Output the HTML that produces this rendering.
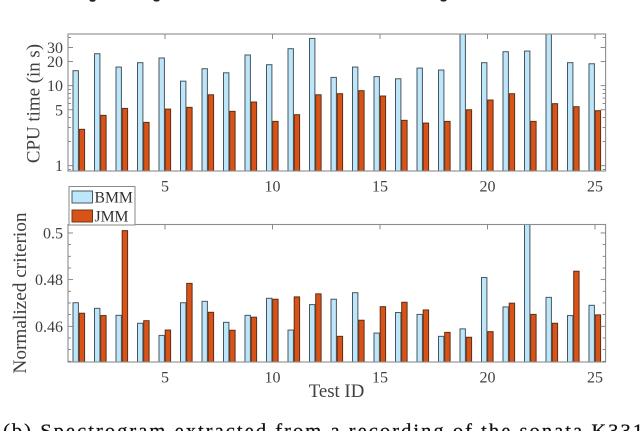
<!DOCTYPE html>
<html lang="en">
<head>
<meta charset="utf-8">
<title>CPU time and normalized criterion per test</title>
<style>
html,body{margin:0;padding:0;background:#fff;}
svg{display:block;font-family:"Liberation Serif",serif;filter:blur(0.35px);}
text{fill:#404040;}
</style>
</head>
<body>
<svg id="chart" xmlns="http://www.w3.org/2000/svg" width="640" height="431" viewBox="0 0 640 431">
  <defs>
    <clipPath id="clip-top"><rect x="68" y="34" width="537.6" height="137"/></clipPath>
    <clipPath id="clip-bottom"><rect x="68" y="224.5" width="537.6" height="137.5"/></clipPath>
  </defs>
  <rect x="0" y="0" width="640" height="431" fill="#fff"/>
  <g fill="#222">
    <ellipse cx="92.5" cy="0.5" rx="3" ry="1.2"/>
    <ellipse cx="156.5" cy="0.5" rx="3" ry="1"/>
    <ellipse cx="443.5" cy="0.5" rx="3" ry="1"/>
  </g>
  <g id="top-plot"></g>
  <g id="bottom-plot"></g>
  <text transform="translate(39.5,103.5) rotate(-90)" text-anchor="middle" font-size="18.9">CPU time (in s)</text>
  <text transform="translate(26,293) rotate(-90)" text-anchor="middle" font-size="19.3">Normalized criterion</text>
  <text x="336.5" y="397" text-anchor="middle" font-size="18.8">Test ID</text>
  <g>
    <rect x="69" y="186.5" width="66" height="38.5" fill="#fff" stroke="#8a8a8a" stroke-width="1"/>
    <rect x="72" y="191" width="20.5" height="12" fill="#bde6fa" stroke="#4a5a62" stroke-width="1"/>
    <text x="94.5" y="202.5" font-size="15.7" style="fill:#303030">BMM</text>
    <rect x="72" y="210" width="20.5" height="12" fill="#d95319" stroke="#6a3a20" stroke-width="1"/>
    <text x="94.5" y="221.5" font-size="15.7" style="fill:#303030">JMM</text>
  </g>
  <text x="3" y="437.5" font-size="20.5" textLength="640" lengthAdjust="spacing" stroke="#111" stroke-width="0.25" style="fill:#111">(b) Spectrogram extracted from a recording of the sonata K331</text>
</svg>
<script>
const testIds = [1,2,3,4,5,6,7,8,9,10,11,12,13,14,15,16,17,18,19,20,21,22,23,24,25];
const xTickValues = [5,10,15,20,25];

const cpuBmm = [15.4,25.1,17.1,19.4,22.2,11.4,16.3,14.5,24.2,18.3,29.0,39.0,12.7,17.1,13.0,12.2,16.6,15.7,50,19.4,26.6,27.1,50,19.4,18.8];
const cpuJmm = [2.85,4.26,5.2,3.48,5.1,5.36,7.7,4.78,6.25,3.58,4.34,7.7,7.94,8.66,7.43,3.69,3.41,3.58,5.0,6.62,7.94,3.58,5.96,5.46,4.87];
const cpuMajorTicks = [1,5,10,20,30];
const cpuMinorTicks = [0.9,2,3,4,6,7,8,9,40];

const critBmm = [0.4701,0.4677,0.4647,0.4613,0.4561,0.4701,0.4707,0.4617,0.4647,0.4720,0.4584,0.4693,0.4716,0.4744,0.4571,0.4659,0.4651,0.4557,0.4589,0.4809,0.4683,0.51,0.4724,0.4646,0.4690];
const critJmm = [0.4656,0.4646,0.5010,0.4624,0.4584,0.4784,0.4660,0.4583,0.4639,0.4716,0.4726,0.4739,0.4557,0.4626,0.4684,0.4703,0.4670,0.4574,0.4553,0.4577,0.4699,0.4651,0.4613,0.4836,0.4649];
const critMajorTicks = [0.46,0.48,0.5];
const critMinorTicks = [0.445,0.45,0.455,0.465,0.47,0.475,0.485,0.49,0.495];
const critTickLabels = ['0.46','0.48','0.5'];

const NS = 'http://www.w3.org/2000/svg';
const LEFT = 68, RIGHT = 605.6;
const xScale = v => 165 + (v - 5) * 21.5;
const yCpu = v => 165.7 - 80 * Math.log10(v);
const yCrit = v => 326.3 - (v - 0.46) * 2333.3;

function make(tag, attrs, parent) {
  const el = document.createElementNS(NS, tag);
  for (const k in attrs) el.setAttribute(k, attrs[k]);
  parent.appendChild(el);
  return el;
}

function drawPlot(group, top, bottom, clipId, yFn, bmm, jmm, majors, minors, labels, prefix) {
  const bars = make('g', {'clip-path': 'url(#' + clipId + ')'}, group);
  
  
  testIds.forEach((id, i) => {
    const c = xScale(id);
    const b = make('rect', {x: c - 6, y: yFn(bmm[i]), width: 5.4, height: Math.max(0, bottom - yFn(bmm[i])), fill: '#bde6fa', stroke: '#47565e', 'stroke-width': 1}, bars);
    
    
    const j = make('rect', {x: c + 0.2, y: yFn(jmm[i]), width: 5.4, height: Math.max(0, bottom - yFn(jmm[i])), fill: '#d95319', stroke: '#5a3018', 'stroke-width': 1}, bars);
    
    
  });

  const ticks = make('g', {stroke: '#6e6e6e', 'stroke-width': 0.8, fill: 'none'}, group);
  
  
  xTickValues.forEach(v => {
    const x = xScale(v);
    const t = make('line', {x1: x, x2: x, y1: top, y2: top + 5}, ticks);
    
    
    const label = make('text', {x: x, y: bottom + 20.7, 'text-anchor': 'middle', 'font-size': 16, stroke: 'none'}, group);
    label.textContent = String(v);
    
    
  });
  majors.forEach((v, i) => {
    const y = yFn(v);
    const a = make('line', {x1: LEFT, x2: LEFT + 5, y1: y, y2: y}, ticks);
    
    
    const b = make('line', {x1: RIGHT - 5, x2: RIGHT, y1: y, y2: y}, ticks);
    
    
    const label = make('text', {x: 63, y: y + 5.5, 'text-anchor': 'end', 'font-size': 16, stroke: 'none'}, group);
    label.textContent = labels[i];
    
    
  });
  minors.forEach(v => {
    const y = yFn(v);
    const a = make('line', {x1: LEFT, x2: LEFT + 3, y1: y, y2: y}, ticks);
    
    
    const b = make('line', {x1: RIGHT - 3, x2: RIGHT, y1: y, y2: y}, ticks);
    
    
  });

  const frame = make('rect', {x: LEFT, y: top, width: RIGHT - LEFT, height: bottom - top, fill: 'none', stroke: '#8c8c8c', 'stroke-width': 1.1}, group);
  
  
}

drawPlot(document.getElementById('top-plot'), 34, 171, 'clip-top', yCpu, cpuBmm, cpuJmm, cpuMajorTicks, cpuMinorTicks, cpuMajorTicks.map(String), 'cpu');
drawPlot(document.getElementById('bottom-plot'), 224.5, 362, 'clip-bottom', yCrit, critBmm, critJmm, critMajorTicks, critMinorTicks, critTickLabels, 'crit');
</script>
</body>
</html>
